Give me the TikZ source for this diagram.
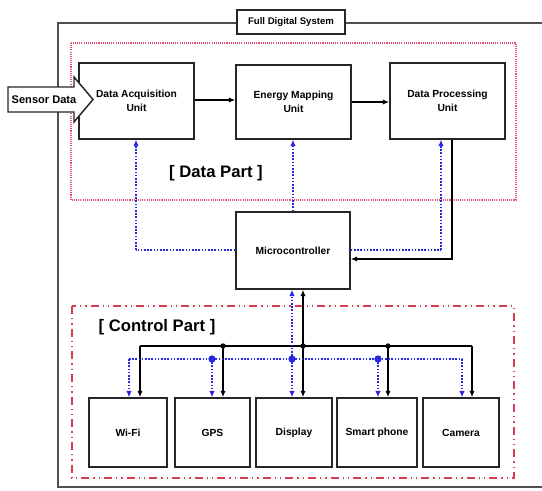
\documentclass[tikz,border=0pt]{standalone}
\usepackage{fontspec}
\setmainfont{Liberation Sans}
\usetikzlibrary{arrows.meta}
\definecolor{bl}{RGB}{40,40,225}
\definecolor{rdot}{RGB}{235,80,110}
\definecolor{rdash}{RGB}{215,60,85}
\definecolor{frame}{RGB}{80,80,80}
\begin{document}
\begin{tikzpicture}[x=0.75pt,y=-0.75pt,
  box/.style 2 args={draw=black!85, line width=1.1pt, fill=white, inner sep=0pt,
     minimum width=#1*0.75pt, minimum height=#2*0.75pt, align=center,
     font=\bfseries\fontsize{7.7}{10.5}\selectfont},
  partlabel/.style={inner sep=0pt, font=\bfseries\fontsize{12.5}{14}\selectfont},
  blk/.style={draw=black, line width=1.4pt, -{Latex[length=4.8pt,width=4pt]}},
  blkline/.style={draw=black, line width=1.4pt},
  blu/.style={draw=bl, line width=1.4pt, dash pattern=on 1.2pt off 1.2pt},
  bluarr/.style={blu, -{Latex[length=4.8pt,width=4.3pt]}},
  bdot/.style={fill=bl, circle, inner sep=0pt, minimum size=5.5pt},
  kdot/.style={fill=black, circle, inner sep=0pt, minimum size=4pt},
]
\useasboundingbox (0,0) rectangle (542,491);
\fill[white] (0,0) rectangle (542,491);

% outer frame
\draw[frame, line width=1.3pt] (58,23) rectangle (560,487);
\node[box={108}{24}, font=\bfseries\fontsize{7.2}{9}\selectfont] (title) at (291,22) {Full Digital System};

% part frames
\draw[rdot, line width=1.1pt, dash pattern=on 0.8pt off 0.8pt] (71,43) rectangle (516,200);
\draw[rdash, line width=1.6pt, dash pattern=on 6pt off 3pt on 1pt off 3pt on 1pt off 3pt] (72,306) rectangle (514,478);

\node[partlabel] (datapart) at (216,173) {[ Data Part ]};
\node[partlabel] (ctrlpart) at (157,327) {[ Control Part ]};

% data part boxes
\node[box={115}{76}] (dau) at (136.5,101) {Data Acquisition\\Unit};
\node[box={115}{74}] (emu) at (293.5,102) {Energy Mapping\\Unit};
\node[box={115}{76}] (dpu) at (447.5,101) {Data Processing\\Unit};

% microcontroller
\node[box={114}{77}] (mcu) at (293,250.5) {Microcontroller};

% control part boxes
\node[box={78}{69}] (wifi) at (128,432.5) {Wi-Fi};
\node[box={75}{69}] (gps) at (212.5,432.5) {GPS};
\node[box={76}{69}] (disp) at (294,432.5) {Display};
\node[box={80}{69}] (phone) at (377,432.5) {Smart phone};
\node[box={76}{69}] (cam) at (461,432.5) {Camera};

% sensor data arrow
\draw[black!85, line width=1.1pt, fill=white, line join=miter]
  (8,87) -- (74,87) -- (74,77) -- (93,99.5) -- (74,122) -- (74,112) -- (8,112) -- cycle;
\node[inner sep=0pt, font=\bfseries\fontsize{8.3}{10}\selectfont] (sensor) at (44,99.5) {Sensor Data};

% data flow
\draw[blk] (dau.east |- 0,100) -- (emu.west |- 0,100);
\draw[blk] (emu.east |- 0,102) -- (dpu.west |- 0,102);

% blue control lines to data part
\coordinate (bL) at (136,250);
\coordinate (bR) at (441,250);
\draw[blu] (mcu.west |- bL) -- (bL);
\draw[bluarr] (bL) -- (dau.south -| bL);
\draw[blu] (mcu.east |- bR) -- (bR);
\draw[bluarr] (bR) -- (dpu.south -| bR);
\draw[bluarr] (mcu.north -| 293,0) -- (emu.south -| 293,0);

% data processing to microcontroller
\coordinate (kR) at (452,259);
\draw[blk] (dpu.south -| kR) -- (kR) -- (mcu.east |- kR);

% control bus (black)
\coordinate (k1) at (140,346);
\coordinate (k2) at (223,346);
\coordinate (k3) at (303,346);
\coordinate (k4) at (388,346);
\coordinate (k5) at (472,346);
\draw[blkline] (k1) -- (k5);
\draw[blk] (k3) -- (mcu.south -| k3);
\draw[blk] (k1) -- (wifi.north -| k1);
\draw[blk] (k2) -- (gps.north -| k2);
\draw[blk] (k3) -- (disp.north -| k3);
\draw[blk] (k4) -- (phone.north -| k4);
\draw[blk] (k5) -- (cam.north -| k5);
\node[kdot] at (k2) {};
\node[kdot] at (k3) {};
\node[kdot] at (k4) {};

% control bus (blue)
\coordinate (b1) at (129,359);
\coordinate (b2) at (212,359);
\coordinate (b3) at (292,359);
\coordinate (b4) at (378,359);
\coordinate (b5) at (462,359);
\draw[blu] (b1) -- (b5);
\draw[bluarr] (b3) -- (mcu.south -| b3);
\draw[bluarr] (b1) -- (wifi.north -| b1);
\draw[bluarr] (b2) -- (gps.north -| b2);
\draw[bluarr] (b3) -- (disp.north -| b3);
\draw[bluarr] (b4) -- (phone.north -| b4);
\draw[bluarr] (b5) -- (cam.north -| b5);
\node[bdot] at (b2) {};
\node[bdot] at (b3) {};
\node[bdot] at (b4) {};
\end{tikzpicture}
\end{document}
